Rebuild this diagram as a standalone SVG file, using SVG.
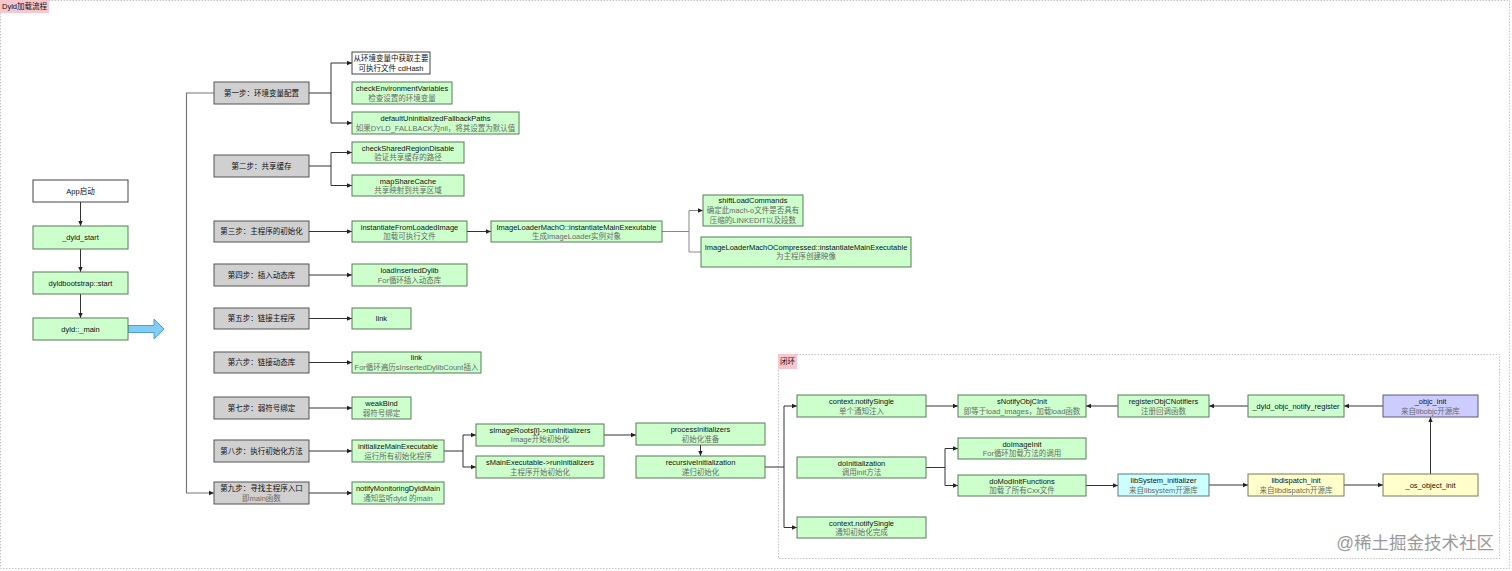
<svg xmlns="http://www.w3.org/2000/svg" width="1512" height="571" viewBox="0 0 1512 571">
<style>
text{font-family:"Liberation Sans","Noto Sans CJK SC",sans-serif;font-size:7.5px;text-anchor:middle;dominant-baseline:central;fill:#111}
.sub{fill:#6a6a6a}
.g rect{fill:#ccffcc;stroke:#5b7a5b;stroke-width:1}
.s rect{fill:#d0d0d0;stroke:#555;stroke-width:1}
.w rect{fill:#fff;stroke:#444;stroke-width:1}
.c rect{fill:#ccffff;stroke:#5b7a7a;stroke-width:1}
.y rect{fill:#ffffcc;stroke:#7a7a5b;stroke-width:1}
.p rect{fill:#ccccff;stroke:#5b5b7a;stroke-width:1}
.edges path{fill:none;stroke:#333;stroke-width:1}
.frame{fill:none;stroke:#c4c4c4;stroke-width:1;stroke-dasharray:1.5,1.5}
.lbl{fill:#f8c6cc}
</style>
<defs>
<marker id="arr" markerWidth="6" markerHeight="6" refX="5" refY="3" orient="auto" markerUnits="userSpaceOnUse">
<path d="M0,0.8 L5,3 L0,5.2 z" fill="#222"/>
</marker>
</defs>
<rect width="1512" height="571" fill="#fff"/>
<rect class="frame" x="0.5" y="0.5" width="1509" height="568"/>
<g id="title"><rect class="lbl" x="0" y="0" width="49" height="13"/><text x="24.5" y="6.5">Dyld加载流程</text></g>
<rect class="frame" x="778.5" y="354.5" width="721" height="204"/>
<g id="loop-label"><rect class="lbl" x="778" y="354" width="19" height="15"/><text x="787.5" y="361.5">闭环</text></g>

<g class="edges" id="connectors">
<path d="M80.5,202 V226" marker-end="url(#arr)"/>
<path d="M80.5,249 V272" marker-end="url(#arr)"/>
<path d="M80.5,294 V318" marker-end="url(#arr)"/>
<path d="M214,93 H186.5 V493 H214" marker-end="url(#arr)" style="stroke:#777;stroke-width:1.2"/>
<path d="M309,93 H331 V63 H352" marker-end="url(#arr)"/>
<path d="M331,93 V123 H352" marker-end="url(#arr)"/>
<path d="M309,166 H331 V152.5 H352" marker-end="url(#arr)"/>
<path d="M331,166 V185.5 H352" marker-end="url(#arr)"/>
<path d="M309,231.5 H352" marker-end="url(#arr)"/>
<path d="M467,231.5 H491" marker-end="url(#arr)"/>
<path d="M662,231.5 H689 V210.5 H703" marker-end="url(#arr)" style="stroke:#888"/>
<path d="M689,231.5 V252 H701" style="stroke:#888"/>
<path d="M309,275 H352" marker-end="url(#arr)"/>
<path d="M309,318.5 H352" marker-end="url(#arr)"/>
<path d="M309,362.5 H352" marker-end="url(#arr)"/>
<path d="M309,408 H352" marker-end="url(#arr)"/>
<path d="M309,451 H352" marker-end="url(#arr)"/>
<path d="M309,493 H352" marker-end="url(#arr)"/>
<path d="M444,451 H463 V435 H476" marker-end="url(#arr)"/>
<path d="M463,451 V467 H476" marker-end="url(#arr)"/>
<path d="M604,435 H636" marker-end="url(#arr)"/>
<path d="M700.5,445 V456" marker-end="url(#arr)"/>
<path d="M765,467 H784 V406 H797" marker-end="url(#arr)"/>
<path d="M784,467 V527.5 H797" marker-end="url(#arr)"/>
<path d="M926,406 H958" marker-end="url(#arr)"/>
<path d="M926,467.5 H945 V448.5 H958" marker-end="url(#arr)"/>
<path d="M945,467.5 V485.5 H958" marker-end="url(#arr)"/>
<path d="M1086,485.5 H1118" marker-end="url(#arr)"/>
<path d="M1209,485 H1248" marker-end="url(#arr)"/>
<path d="M1344,485 H1383" marker-end="url(#arr)"/>
<path d="M1430.5,474 V417" marker-end="url(#arr)"/>
<path d="M1383,406 H1344" marker-end="url(#arr)"/>
<path d="M1248,406 H1209" marker-end="url(#arr)"/>
<path d="M1118,406 H1086" marker-end="url(#arr)"/>
</g>

<g id="big-arrow"><polygon points="128,325.5 154,325.5 154,319 164,329 154,339 154,332.5 128,332.5" fill="#82cdf5" stroke="#4a9ee0" stroke-width="1"/></g>

<g id="app" class="w"><rect x="33" y="180" width="95" height="22"/><text x="80.5" y="191">App启动</text></g>
<g id="dyld_start" class="g"><rect x="33" y="226" width="95" height="23"/><text x="80.5" y="237.5">_dyld_start</text></g>
<g id="bootstrap" class="g"><rect x="33" y="272" width="95" height="22"/><text x="80.5" y="283">dyldbootstrap::start</text></g>
<g id="dyld_main" class="g"><rect x="33" y="318" width="95" height="22"/><text x="80.5" y="329">dyld::_main</text></g>

<g id="step1" class="s"><rect x="214" y="82" width="95" height="22"/><text x="261.5" y="93">第一步：环境变量配置</text></g>
<g id="step2" class="s"><rect x="214" y="155" width="95" height="22"/><text x="261.5" y="166">第二步：共享缓存</text></g>
<g id="step3" class="s"><rect x="214" y="221" width="95" height="21"/><text x="261.5" y="231.5">第三步：主程序的初始化</text></g>
<g id="step4" class="s"><rect x="214" y="264" width="95" height="22"/><text x="261.5" y="275">第四步：插入动态库</text></g>
<g id="step5" class="s"><rect x="214" y="308" width="95" height="21"/><text x="261.5" y="318.5">第五步：链接主程序</text></g>
<g id="step6" class="s"><rect x="214" y="352" width="95" height="21"/><text x="261.5" y="362.5">第六步：链接动态库</text></g>
<g id="step7" class="s"><rect x="214" y="397" width="95" height="22"/><text x="261.5" y="408">第七步：弱符号绑定</text></g>
<g id="step8" class="s"><rect x="214" y="440" width="95" height="22"/><text x="261.5" y="451">第八步：执行初始化方法</text></g>
<g id="step9" class="s"><rect x="214" y="482" width="95" height="22"/><text x="261.5" y="488.5">第九步：寻找主程序入口</text><text class="sub" x="261.5" y="498">即main函数</text></g>

<g id="cdhash" class="w"><rect x="352" y="52" width="78" height="22"/><text x="391" y="58.5">从环境变量中获取主要</text><text x="391" y="68">可执行文件 cdHash</text></g>
<g id="checkEnv" class="g"><rect x="352" y="82" width="100" height="22"/><text x="402" y="88.5">checkEnvironmentVariables</text><text class="sub" x="402" y="98">检查设置的环境变量</text></g>
<g id="defaultUn" class="g"><rect x="352" y="112" width="167" height="22"/><text x="435.5" y="118.5">defaultUninitializedFallbackPaths</text><text class="sub" x="435.5" y="128">如果DYLD_FALLBACK为nil，将其设置为默认值</text></g>
<g id="checkShared" class="g"><rect x="352" y="142" width="112" height="21"/><text x="408" y="148">checkSharedRegionDisable</text><text class="sub" x="408" y="157.5">验证共享缓存的路径</text></g>
<g id="mapShare" class="g"><rect x="352" y="175" width="112" height="21"/><text x="408" y="181">mapShareCache</text><text class="sub" x="408" y="190.5">共享映射到共享区域</text></g>
<g id="instFrom" class="g"><rect x="352" y="221" width="115" height="21"/><text x="409.5" y="227">instantiateFromLoadedImage</text><text class="sub" x="409.5" y="236.5">加载可执行文件</text></g>
<g id="imlMachO" class="g"><rect x="491" y="221" width="171" height="21"/><text x="576.5" y="227">ImageLoaderMachO::instantiateMainExexutable</text><text class="sub" x="576.5" y="236.5">生成ImageLoader实例对象</text></g>
<g id="shift" class="g"><rect x="703" y="195" width="100" height="31"/><text x="753" y="200.8">shiftLoadCommands</text><text class="sub" x="753" y="210.7">确定此mach-o文件是否具有</text><text class="sub" x="753" y="220.5">压缩的LINKEDIT以及段数</text></g>
<g id="imlComp" class="g"><rect x="701" y="237" width="210" height="30"/><text x="806" y="247">ImageLoaderMachOCompressed::instantiateMainExecutable</text><text class="sub" x="806" y="256.5">为主程序创建映像</text></g>
<g id="loadIns" class="g"><rect x="352" y="264" width="115" height="22"/><text x="409.5" y="270.5">loadInsertedDylib</text><text class="sub" x="409.5" y="280">For循环插入动态库</text></g>
<g id="link1" class="g"><rect x="352" y="308" width="59" height="21"/><text x="381.5" y="318.5">link</text></g>
<g id="link2" class="g"><rect x="352" y="352" width="129" height="21"/><text x="416.5" y="357.5">link</text><text class="sub" x="416.5" y="367">For循环遍历sInsertedDylibCount插入</text></g>
<g id="weakBind" class="g"><rect x="352" y="397" width="59" height="22"/><text x="381.5" y="403.5">weakBind</text><text class="sub" x="381.5" y="413">弱符号绑定</text></g>
<g id="initMain" class="g"><rect x="352" y="440" width="92" height="22"/><text x="398" y="446.5">initializeMainExecutable</text><text class="sub" x="398" y="456">运行所有初始化程序</text></g>
<g id="notifyMon" class="g"><rect x="352" y="482" width="92" height="22"/><text x="398" y="488.5">notifyMonitoringDyldMain</text><text class="sub" x="398" y="498">通知监听dyld 的main</text></g>
<g id="sImageRoots" class="g"><rect x="476" y="424" width="128" height="22"/><text x="540" y="430">sImageRoots[i]-&gt;runInitializers</text><text class="sub" x="540" y="439.5">Image开始初始化</text></g>
<g id="sMainExec" class="g"><rect x="476" y="456" width="128" height="22"/><text x="540" y="462.5">sMainExecutable-&gt;runInitializers</text><text class="sub" x="540" y="472">主程序开始初始化</text></g>
<g id="procInit" class="g"><rect x="636" y="423" width="129" height="22"/><text x="700.5" y="429.5">processInitializers</text><text class="sub" x="700.5" y="439">初始化准备</text></g>
<g id="recInit" class="g"><rect x="636" y="456" width="129" height="22"/><text x="700.5" y="462.5">recursiveInitialization</text><text class="sub" x="700.5" y="472">递归初始化</text></g>
<g id="ctxNotify1" class="g"><rect x="797" y="395" width="129" height="22"/><text x="861.5" y="401.5">context.notifySingle</text><text class="sub" x="861.5" y="411">单个通知注入</text></g>
<g id="doInit" class="g"><rect x="797" y="457" width="129" height="21"/><text x="861.5" y="463">doInitialization</text><text class="sub" x="861.5" y="472.5">调用init方法</text></g>
<g id="ctxNotify2" class="g"><rect x="797" y="517" width="129" height="21"/><text x="861.5" y="523">context.notifySingle</text><text class="sub" x="861.5" y="532.5">通知初始化完成</text></g>
<g id="sNotify" class="g"><rect x="958" y="395" width="128" height="22"/><text x="1022" y="401.5">sNotifyObjCInit</text><text class="sub" x="1022" y="411">即等于load_images，加载load函数</text></g>
<g id="doImage" class="g"><rect x="958" y="438" width="128" height="21"/><text x="1022" y="444">doImageInit</text><text class="sub" x="1022" y="453.5">For循环加载方法的调用</text></g>
<g id="doMod" class="g"><rect x="958" y="475" width="128" height="21"/><text x="1022" y="481">doModInitFunctions</text><text class="sub" x="1022" y="490.5">加载了所有Cxx文件</text></g>
<g id="libSystem" class="c"><rect x="1118" y="474" width="91" height="22"/><text x="1163.5" y="480.5">libSystem_initializer</text><text class="sub" x="1163.5" y="490">来自libsystem开源库</text></g>
<g id="libdispatch" class="y"><rect x="1248" y="474" width="96" height="22"/><text x="1296" y="480.5">libdispatch_init</text><text class="sub" x="1296" y="490">来自libdispatch开源库</text></g>
<g id="osObj" class="y"><rect x="1383" y="474" width="95" height="22"/><text x="1430.5" y="485">_os_object_init</text></g>
<g id="objcInit" class="p"><rect x="1383" y="395" width="95" height="22"/><text x="1430.5" y="401.5">_objc_init</text><text class="sub" x="1430.5" y="411">来自libobjc开源库</text></g>
<g id="dyldNotify" class="g"><rect x="1248" y="395" width="96" height="22"/><text x="1296" y="406">_dyld_objc_notify_register</text></g>
<g id="registerObjC" class="g"><rect x="1118" y="395" width="91" height="22"/><text x="1163.5" y="401.5">registerObjCNotifiers</text><text class="sub" x="1163.5" y="411">注册回调函数</text></g>

<text x="1494" y="543" style="font-size:17.5px;text-anchor:end;fill:#9a9a9a">@稀土掘金技术社区</text>
</svg>
